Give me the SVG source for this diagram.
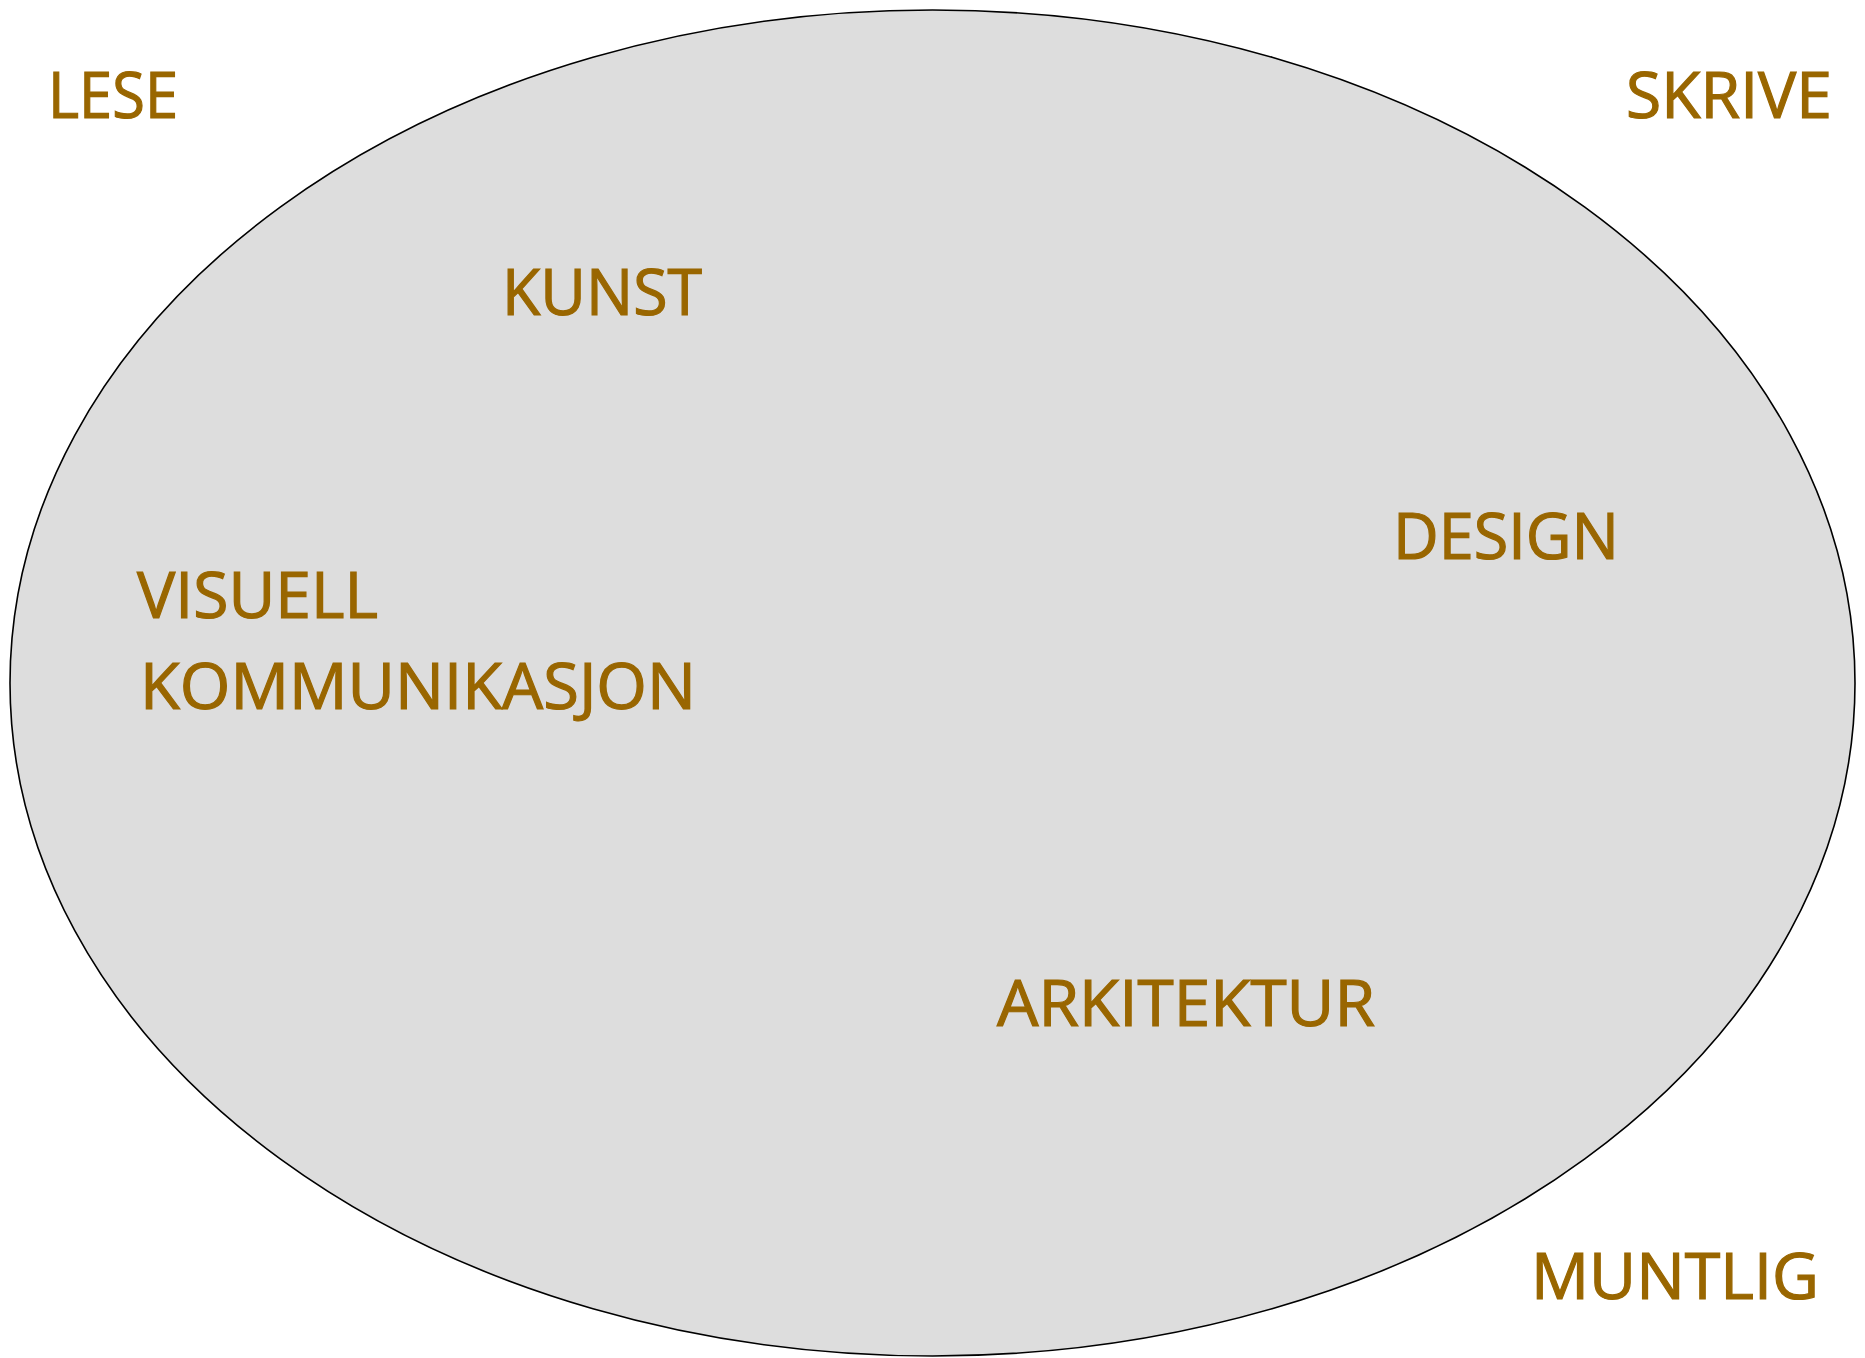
<svg xmlns="http://www.w3.org/2000/svg" width="1865" height="1358" viewBox="0 0 1865 1358">
<style>
.t{font-family:"Open Sans","Noto Sans","Liberation Sans",sans-serif;font-size:64px;fill:#996600;stroke:#996600;stroke-width:1.2px;}
</style>
<rect width="1865" height="1358" fill="#ffffff"/>
<g id="oval">
<ellipse cx="932.5" cy="683" rx="922.5" ry="673" fill="#dddddd" stroke="#000000" stroke-width="1.6"/>
</g>
<g id="connectors"></g>
<g id="lese"><text class="t" x="48" y="118" textLength="130" lengthAdjust="spacingAndGlyphs">LESE</text></g>
<g id="skrive"><text class="t" x="1626" y="118" textLength="206" lengthAdjust="spacingAndGlyphs">SKRIVE</text></g>
<g id="kunst"><text class="t" x="502" y="315" textLength="200" lengthAdjust="spacingAndGlyphs">KUNST</text></g>
<g id="design"><text class="t" x="1393" y="559" textLength="226" lengthAdjust="spacingAndGlyphs">DESIGN</text></g>
<g id="visuell"><text class="t" x="137" y="618" textLength="241" lengthAdjust="spacingAndGlyphs">VISUELL</text><text class="t" x="140" y="709" textLength="556" lengthAdjust="spacingAndGlyphs">KOMMUNIKASJON</text></g>
<g id="arkitektur"><text class="t" x="997" y="1026" textLength="378" lengthAdjust="spacingAndGlyphs">ARKITEKTUR</text></g>
<g id="muntlig"><text class="t" x="1531" y="1299" textLength="288" lengthAdjust="spacingAndGlyphs">MUNTLIG</text></g>
</svg>
